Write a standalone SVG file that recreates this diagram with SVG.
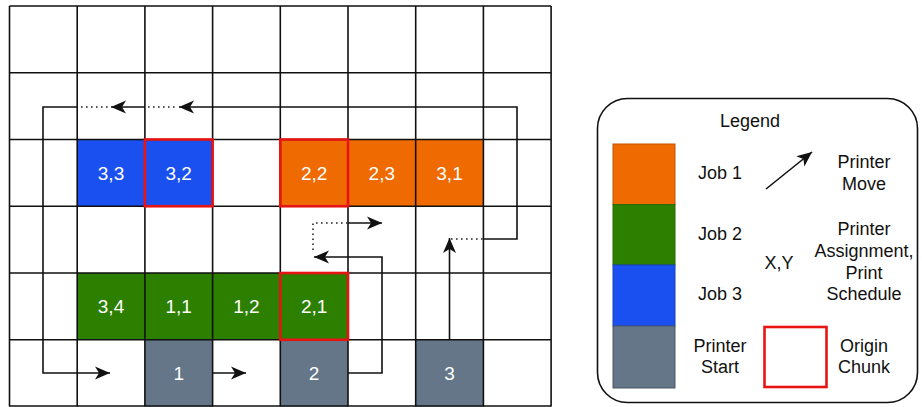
<svg xmlns="http://www.w3.org/2000/svg" width="922" height="407" viewBox="0 0 922 407">
  <style>
    .bg { fill: #ffffff; }
    .grid { stroke: #111111; stroke-width: 1.6; fill: none; }
    .job1 { fill: #EF6A00; }
    .job2 { fill: #2D7F00; }
    .job3 { fill: #1A50F0; }
    .start { fill: #647687; }
    .origin { fill: none; stroke: #E81414; stroke-width: 2.6; }
    .cell-label { font-family: "Liberation Sans", Arial, sans-serif; font-size: 19px; fill: #ffffff; text-anchor: middle; dominant-baseline: central; }
    .move { fill: none; stroke: #111111; stroke-width: 1.6; }
    .hop { fill: none; stroke: #222222; stroke-width: 1.6; stroke-dasharray: 1.6 3.4; }
    .legend-text { font-family: "Liberation Sans", Arial, sans-serif; font-size: 18px; fill: #111111; text-anchor: middle; dominant-baseline: central; }
  </style>
  <defs>
    <marker id="arrow" markerUnits="userSpaceOnUse" markerWidth="16" markerHeight="14" refX="15" refY="7" orient="auto">
      <path d="M0,0.5 L15,7 L0,13.5 L4,7 Z" fill="#111111"/>
    </marker>
  </defs>

  <rect class="bg" x="0" y="0" width="922" height="407"/>

  <!-- chunk fills -->
  <g id="cells">
    <g id="cell-3-3"><rect class="job3" x="77.2" y="139.5" width="67.7" height="66.75"/><text class="cell-label" x="111" y="173">3,3</text></g>
    <g id="cell-3-2"><rect class="job3" x="144.9" y="139.5" width="67.7" height="66.75"/><text class="cell-label" x="178.7" y="173">3,2</text></g>
    <g id="cell-2-2"><rect class="job1" x="280.3" y="139.5" width="67.7" height="66.75"/><text class="cell-label" x="314.1" y="173">2,2</text></g>
    <g id="cell-2-3"><rect class="job1" x="348" y="139.5" width="67.7" height="66.75"/><text class="cell-label" x="381.8" y="173">2,3</text></g>
    <g id="cell-3-1"><rect class="job1" x="415.7" y="139.5" width="67.7" height="66.75"/><text class="cell-label" x="449.5" y="173">3,1</text></g>
    <g id="cell-3-4"><rect class="job2" x="77.2" y="273" width="67.7" height="66.75"/><text class="cell-label" x="111" y="306.5">3,4</text></g>
    <g id="cell-1-1"><rect class="job2" x="144.9" y="273" width="67.7" height="66.75"/><text class="cell-label" x="178.7" y="306.5">1,1</text></g>
    <g id="cell-1-2"><rect class="job2" x="212.6" y="273" width="67.7" height="66.75"/><text class="cell-label" x="246.4" y="306.5">1,2</text></g>
    <g id="cell-2-1"><rect class="job2" x="280.3" y="273" width="67.7" height="66.75"/><text class="cell-label" x="314.1" y="306.5">2,1</text></g>
    <g id="printer-1"><rect class="start" x="144.9" y="339.75" width="67.7" height="66.75"/><text class="cell-label" x="178.7" y="373">1</text></g>
    <g id="printer-2"><rect class="start" x="280.3" y="339.75" width="67.7" height="66.75"/><text class="cell-label" x="314.1" y="373">2</text></g>
    <g id="printer-3"><rect class="start" x="415.7" y="339.75" width="67.7" height="66.75"/><text class="cell-label" x="449.5" y="373">3</text></g>
  </g>

  <!-- grid lines -->
  <g id="grid" class="grid">
    <path d="M9.5,6 V406.5 M77.2,6 V406.5 M144.9,6 V406.5 M212.6,6 V406.5 M280.3,6 V406.5 M348,6 V406.5 M415.7,6 V406.5 M483.4,6 V406.5 M551.1,6 V406.5"/>
    <path d="M9.5,6 H551.1 M9.5,72.75 H551.1 M9.5,139.5 H551.1 M9.5,206.25 H551.1 M9.5,273 H551.1 M9.5,339.75 H551.1 M9.5,406 H551.1"/>
  </g>

  <!-- origin chunks -->
  <g id="origins">
    <rect class="origin" x="144.9" y="139.5" width="67.7" height="66.75"/>
    <rect class="origin" x="280.3" y="139.5" width="67.7" height="66.75"/>
    <rect class="origin" x="280.3" y="273" width="67.7" height="66.75"/>
  </g>

  <!-- printer moves -->
  <g id="connectors">
    <path class="move" d="M449.5,339.75 V238" marker-end="url(#arrow)"/>
    <path class="hop" d="M451,239 H483"/>
    <path class="move" d="M483.4,239 H517 V107 H179" marker-end="url(#arrow)"/>
    <path class="hop" d="M148,107 H177"/>
    <path class="move" d="M144.9,107 H111" marker-end="url(#arrow)"/>
    <path class="hop" d="M81,107 H109"/>
    <path class="move" d="M77.2,107 H43 V373 H110" marker-end="url(#arrow)"/>
    <path class="move" d="M212.6,373 H246" marker-end="url(#arrow)"/>
    <path class="move" d="M348,373 H382 V257 H314" marker-end="url(#arrow)"/>
    <path class="hop" d="M313,250 V223 H347"/>
    <path class="move" d="M348,223 H382" marker-end="url(#arrow)"/>
  </g>

  <!-- legend -->
  <g id="legend">
    <rect x="597.5" y="98.5" width="320" height="304" rx="30" ry="30" fill="#ffffff" stroke="#111111" stroke-width="1.6"/>
    <text class="legend-text" x="750" y="121">Legend</text>
    <rect class="job1" x="613" y="144" width="62" height="60.5" stroke="#C45500" stroke-width="1"/>
    <rect class="job2" x="613" y="204.5" width="62" height="60.5" stroke="#2A6A00" stroke-width="1"/>
    <rect class="job3" x="613" y="265" width="62" height="61" stroke="#1440C0" stroke-width="1"/>
    <rect class="start" x="613" y="326" width="62" height="62" stroke="#4A5766" stroke-width="1"/>
    <text class="legend-text" x="720" y="173">Job 1</text>
    <text class="legend-text" x="720" y="234">Job 2</text>
    <text class="legend-text" x="720" y="294">Job 3</text>
    <text class="legend-text" x="720" y="346">Printer</text>
    <text class="legend-text" x="720" y="367">Start</text>
    <path class="move" d="M766,189 L812,152" marker-end="url(#arrow)"/>
    <text class="legend-text" x="864" y="162">Printer</text>
    <text class="legend-text" x="864" y="184">Move</text>
    <text class="legend-text" x="779" y="263">X,Y</text>
    <text class="legend-text" x="864" y="229">Printer</text>
    <text class="legend-text" x="864" y="251">Assignment,</text>
    <text class="legend-text" x="864" y="273">Print</text>
    <text class="legend-text" x="864" y="294">Schedule</text>
    <rect x="764.5" y="327" width="62" height="60" fill="none" stroke="#E81414" stroke-width="2.6"/>
    <text class="legend-text" x="864" y="346">Origin</text>
    <text class="legend-text" x="864" y="367">Chunk</text>
  </g>
</svg>
